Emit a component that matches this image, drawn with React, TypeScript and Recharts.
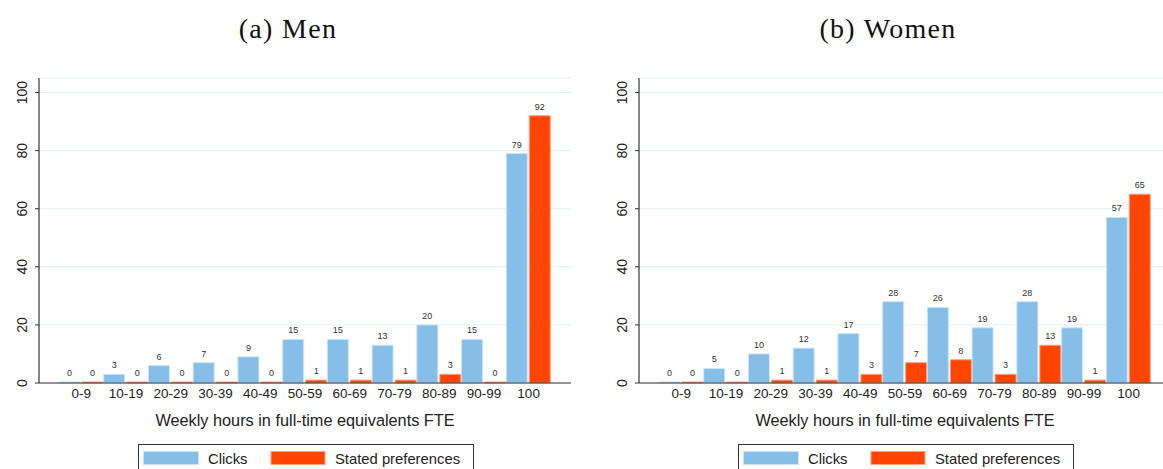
import { BarChart, Bar, XAxis, YAxis, CartesianGrid, LabelList } from 'recharts';

// ============================================================================
// Data
// ============================================================================

const categories = ['0-9', '10-19', '20-29', '30-39', '40-49', '50-59', '60-69', '70-79', '80-89', '90-99', '100'];

const menClicks = [0, 3, 6, 7, 9, 15, 15, 13, 20, 15, 79];
const menStated = [0, 0, 0, 0, 0, 1, 1, 1, 3, 0, 92];

const womenClicks = [0, 5, 10, 12, 17, 28, 26, 19, 28, 19, 57];
const womenStated = [0, 0, 1, 1, 3, 7, 8, 3, 13, 1, 65];

const yTicks = [0, 20, 40, 60, 80, 100];

// ============================================================================
// Constants
// ============================================================================

const BLUE = '#85bfe8';
const BLUE_EDGE = '#cde5f6';
const ORANGE = '#ff4500';
const ORANGE_EDGE = '#ffa286';
const SANS = '"Liberation Sans", Arial, sans-serif';
const SERIF = '"Liberation Serif", "Times New Roman", serif';

const buildRows = (clicks: number[], stated: number[]) =>
  categories.map((cat, i) => ({ cat, clicks: clicks[i], stated: stated[i] }));

// rotated y tick labels, like Stata's default
const RotatedTick = (props: any) => {
  const { x, y, payload } = props;
  return (
    <text
      x={x}
      y={y}
      transform={`rotate(-90, ${x}, ${y})`}
      textAnchor="middle"
      fontSize={14}
      fontFamily={SANS}
      fill="#222"
    >
      {payload.value}
    </text>
  );
};

// ============================================================================
// Panel
// ============================================================================

interface PanelProps {
  title: string;
  clicks: number[];
  stated: number[];
  left: number;
  width: number;
  padRight: number;
}

function Panel({ title, clicks, stated, left, width, padRight }: PanelProps) {
  const rows = buildRows(clicks, stated);
  return (
    <div style={{ position: 'absolute', left, top: 0, width, height: 469 }}>
      <BarChart
        width={width}
        height={469}
        data={rows}
        margin={{ top: 78, right: width === 600 ? 29 : 0, left: 0, bottom: 0 }}
        barSize={21}
        barGap={2}
      >
        <CartesianGrid vertical={false} stroke="#e6eff1" strokeWidth={1} />
        <XAxis
          dataKey="cat"
          height={86}
          interval={0}
          tickLine={false}
          tickSize={0}
          tickMargin={5}
          padding={{ left: 20, right: padRight }}
          axisLine={{ stroke: '#333', strokeWidth: 1.2 }}
          tick={{ fontSize: 13.5, fontFamily: SANS, fill: '#222' }}
        />
        <YAxis
          width={39}
          domain={[0, 105]}
          ticks={yTicks}
          interval={0}
          tickSize={4}
          tickMargin={8}
          axisLine={{ stroke: '#333', strokeWidth: 1.2 }}
          tickLine={{ stroke: '#333' }}
          tick={<RotatedTick />}
        />
        <Bar
          dataKey="clicks"
          fill={BLUE}
          stroke={BLUE_EDGE}
          strokeWidth={1}
          minPointSize={1}
          isAnimationActive={false}
        >
          <LabelList dataKey="clicks" position="top" offset={6} fontSize={9} fontFamily={SANS} fill="#333" />
        </Bar>
        <Bar
          dataKey="stated"
          fill={ORANGE}
          stroke={ORANGE_EDGE}
          strokeWidth={1}
          minPointSize={1}
          isAnimationActive={false}
        >
          <LabelList dataKey="stated" position="top" offset={6} fontSize={9} fontFamily={SANS} fill="#333" />
        </Bar>
      </BarChart>

      {/* overlay text: panel title, axis title and legend */}
      <svg width={width} height={469} style={{ position: 'absolute', left: 0, top: 0, pointerEvents: 'none' }}>
        <text x={288} y={38} textAnchor="middle" fontSize={28} fontFamily={SERIF} letterSpacing={1.3} fill="#111">
          {title}
        </text>
        <text x={305} y={426} textAnchor="middle" fontSize={16.3} fontFamily={SANS} fill="#222">
          Weekly hours in full-time equivalents FTE
        </text>
        <rect x={138.5} y={444.5} width={335} height={40} fill="#fff" stroke="#333" strokeWidth={1} />
        <rect x={143.5} y={451.5} width={55} height={13} fill={BLUE} stroke={BLUE_EDGE} />
        <text x={208} y={464} fontSize={14.8} fontFamily={SANS} fill="#222">Clicks</text>
        <rect x={271} y={451.5} width={54} height={13} fill={ORANGE} stroke={ORANGE_EDGE} />
        <text x={335} y={464} fontSize={14.8} fontFamily={SANS} fill="#222">Stated preferences</text>
      </svg>
    </div>
  );
}

// ============================================================================
// App
// ============================================================================

export default function App() {
  return (
    <div
      style={{
        position: 'fixed',
        left: 0,
        top: 0,
        width: 1163,
        height: 469,
        overflow: 'hidden',
        background: '#fff',
      }}
    >
      <Panel title="(a) Men" clicks={menClicks} stated={menStated} left={0} width={600} padRight={20} />
      <Panel title="(b) Women" clicks={womenClicks} stated={womenStated} left={600} width={563} padRight={12} />
    </div>
  );
}
